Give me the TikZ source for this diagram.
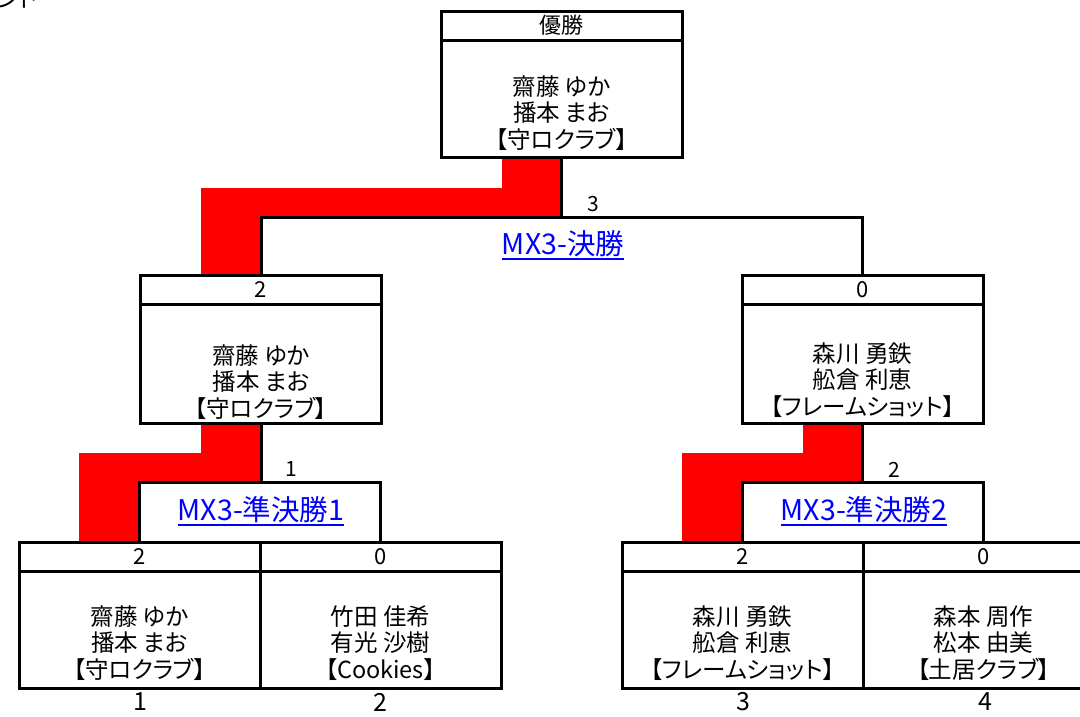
\documentclass[tikz,border=0pt]{standalone}
\usepackage{fontspec}
\setmainfont{Noto Sans CJK JP}[RawFeature=+palt]
\newcommand\nmfont{\fontsize{23.5}{26.5}\selectfont}
\newcommand\hdfont{\fontsize{22}{24}\selectfont}
\newcommand\scfont{\fontsize{21}{24}\selectfont}
\newcommand\btfont{\fontsize{25}{30}\selectfont}
\newcommand\lbfont{\fontsize{28.5}{32}\selectfont}
\definecolor{hilite}{RGB}{255,0,0}
\definecolor{linkblue}{RGB}{0,0,255}
\tikzset{
  cell/.style={draw=black, line width=3pt, inner sep=0pt, minimum width=241pt},
  hdcell/.style={cell, minimum height=29pt, font=\hdfont},
  bdcell/.style={cell},
  names/.style={align=center, font=\nmfont, inner sep=0pt},
  wire/.style={draw=black, line width=3pt},
  score/.style={font=\scfont, inner sep=0pt},
  seed/.style={font=\btfont, inner sep=0pt},
  matchlbl/.style={font=\lbfont, text=linkblue, inner sep=0pt},
  uline/.style={draw=linkblue, line width=2pt},
  redpath/.style={fill=hilite, draw=none}
}
\begin{document}
\begin{tikzpicture}[x=1pt,y=-1pt]
\useasboundingbox (0,0) rectangle (1080,716);
\fill[white] (0,0) rectangle (1080,716);

% cut-off title fragment
\node[font=\nmfont, anchor=south west, inner sep=0pt] (ttl) at (-2,8) {ント};

% red highlight of the winner's path
\path[redpath] (502,157) -- (561.5,157) -- (561.5,217) -- (261,217) -- (261,276)
  -- (201,276) -- (201,188) -- (502,188) -- cycle;
\path[redpath] (201,423) -- (261,423) -- (261,482) -- (139.5,482) -- (139.5,542)
  -- (79,542) -- (79,453) -- (201,453) -- cycle;
\path[redpath] (803,423) -- (862.5,423) -- (862.5,482) -- (742.5,482) -- (742.5,542)
  -- (682,542) -- (682,453) -- (803,453) -- cycle;

% champion
\node[hdcell] (topH) at (561.5,25.5) {優勝};
\node[bdcell, minimum height=117pt] (topB) at (561.5,98.5) {};
\node[names] (topT) at (561.5,113) {齋藤 ゆか\\播本 まお\\【守ロクラブ】};

% second level
\node[hdcell] (lH) at (261,290) {2};
\node[bdcell, minimum height=119pt] (lB) at (261,363.5) {};
\node[names] (lT) at (261,382) {齋藤 ゆか\\播本 まお\\【守ロクラブ】};

\node[hdcell] (rH) at (862.5,290) {0};
\node[bdcell, minimum height=119pt] (rB) at (862.5,363.5) {};
\node[names] (rT) at (862.5,380) {森川 勇鉄\\舩倉 利恵\\【フレームショット】};

% first round
\node[hdcell] (p1H) at (139.5,556.5) {2};
\node[bdcell, minimum height=117pt] (p1B) at (139.5,629.5) {};
\node[names] (p1T) at (139.5,643) {齋藤 ゆか\\播本 まお\\【守ロクラブ】};

\node[hdcell] (p2H) at (380.5,556.5) {0};
\node[bdcell, minimum height=117pt] (p2B) at (380.5,629.5) {};
\node[names] (p2T) at (380.5,643) {竹田 佳希\\有光 沙樹\\【Cookies】};

\node[hdcell] (p3H) at (742.5,556.5) {2};
\node[bdcell, minimum height=117pt] (p3B) at (742.5,629.5) {};
\node[names] (p3T) at (742.5,643) {森川 勇鉄\\舩倉 利恵\\【フレームショット】};

\node[hdcell] (p4H) at (983.5,556.5) {0};
\node[bdcell, minimum height=117pt] (p4B) at (983.5,629.5) {};
\node[names] (p4T) at (983.5,643) {森本 周作\\松本 由美\\【土居クラブ】};

% seeds
\node[seed] (s1) at (140,702) {1};
\node[seed] (s2) at (380.5,702) {2};
\node[seed] (s3) at (743,702) {3};
\node[seed] (s4) at (985,702) {4};

% connectors
\coordinate (fj) at (561.5,217);
\draw[wire] (topB.south) -- (fj);
\draw[wire] (lH.north) |- (fj) -| (rH.north);
\coordinate (sj1) at (261,482);
\draw[wire] (lB.south) -- (sj1);
\draw[wire] (p1H.north) |- (sj1) -| (p2H.north);
\coordinate (sj2) at (862.5,482);
\draw[wire] (rB.south) -- (sj2);
\draw[wire] (p3H.north) |- (sj2) -| (p4H.north);

% scores at junctions
\node[score] (sc0) at (593,204) {3};
\node[score] (sc1) at (291,469) {1};
\node[score] (sc2) at (894,470) {2};

% match labels
\node[matchlbl] (mF) at (563,244) {MX3-決勝};
\draw[uline] ([yshift=-2pt]mF.south west) -- ([yshift=-2pt]mF.south east);
\node[matchlbl] (mS1) at (261,510) {MX3-準決勝1};
\draw[uline] ([yshift=-2pt]mS1.south west) -- ([yshift=-2pt]mS1.south east);
\node[matchlbl] (mS2) at (864,510) {MX3-準決勝2};
\draw[uline] ([yshift=-2pt]mS2.south west) -- ([yshift=-2pt]mS2.south east);
\end{tikzpicture}
\end{document}
